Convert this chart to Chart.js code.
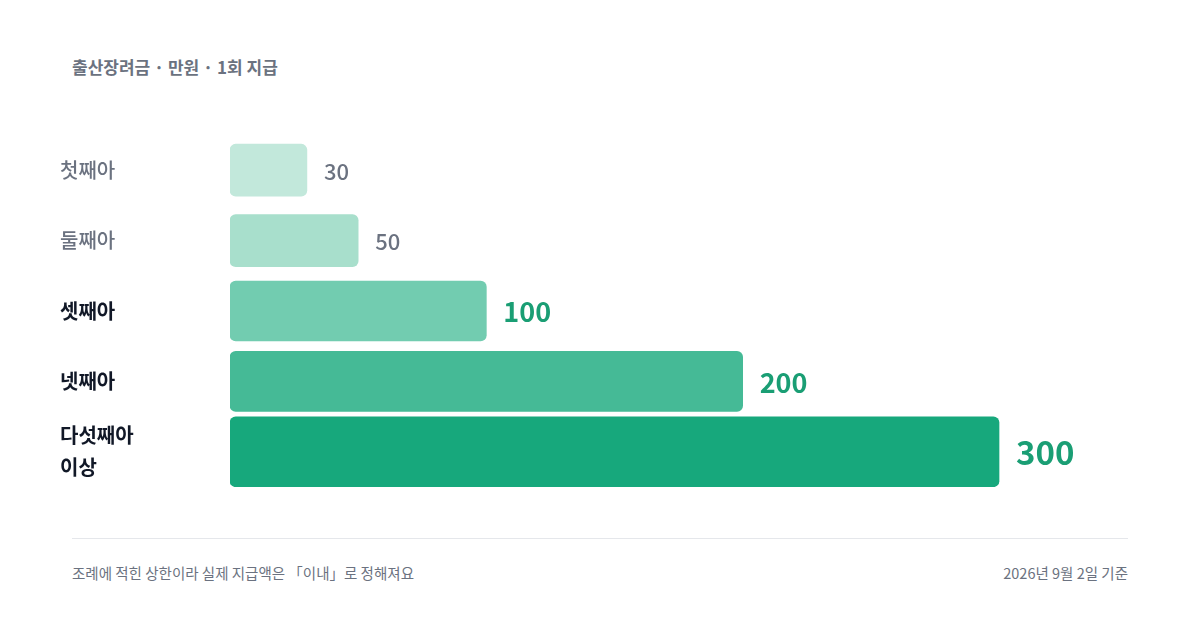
<!DOCTYPE html>
<html><head><meta charset="utf-8">
<script src="https://cdn.jsdelivr.net/npm/chart.js@4"></script>
<style>
body{margin:0;width:1200px;height:625px;background:#fff;font-family:"Noto Sans CJK KR","Noto Sans",sans-serif;position:relative;overflow:hidden}
#title{position:absolute;left:72px;top:54px;font-size:17px;font-weight:700;color:#6b7280}
#wrap{position:absolute;left:60px;top:103px;width:1080px;height:400px}
#rule{position:absolute;left:72px;top:538px;width:1056px;height:1px;background:#e5e7eb}
.foot{position:absolute;top:562px;font-size:14.5px;color:#6b7280}
</style></head><body>
<div id="title">출산장려금 · 만원 · 1회 지급</div>
<div id="wrap"><canvas id="c"></canvas></div>
<div id="rule"></div>
<div class="foot" style="left:72px">조례에 적힌 상한이라 실제 지급액은 「이내」로 정해져요</div>
<div class="foot" style="right:72px">2026년 9월 2일 기준</div>
<script>
const categories=[["첫째아"],["둘째아"],["셋째아"],["넷째아"],["다섯째아","이상"]];
const values=[30,50,100,200,300];
const colors=["#c2e8db","#a8dfcc","#72ccb0","#45ba96","#17a87c"];
const thick=[52,52,60,60,70];
const datasets=values.map((v,i)=>({data:values.map((_,j)=>j===i?v:null),backgroundColor:colors[i],barThickness:thick[i],borderRadius:6,borderSkipped:false,grouped:false}));
const valueLabels={id:'vl',afterDatasetsDraw(ch){const c=ch.ctx;ch.data.datasets.forEach((d,i)=>{const el=ch.getDatasetMeta(i).data[i];const strong=i>=2;const fs=i<2?22:(i<4?27:33);c.save();c.font=(strong?'700 ':'500 ')+fs+'px "Noto Sans CJK KR","Noto Sans",sans-serif';c.fillStyle=strong?'#1a9e74':'#6b7280';c.textBaseline='middle';c.fillText(String(values[i]),el.x+(i<2?17:17),el.y+1);c.restore();});}};
new Chart(document.getElementById('c'),{type:'bar',data:{labels:categories,datasets},plugins:[valueLabels],
options:{indexAxis:'y',responsive:true,maintainAspectRatio:false,animation:false,layout:{padding:0},
plugins:{legend:{display:false},tooltip:{enabled:false}},
scales:{x:{display:false,min:0,max:355},
y:{grid:{display:false},border:{display:false},afterFit(s){s.width=170;},
ticks:{crossAlign:'far',padding:0,color:(c)=>c.index<2?'#6b7280':'#111827',font:(c)=>({size:20,weight:c.index<2?'500':'700',family:'"Noto Sans CJK KR","Noto Sans",sans-serif',lineHeight:1.6})}}}}});
</script></body></html>
